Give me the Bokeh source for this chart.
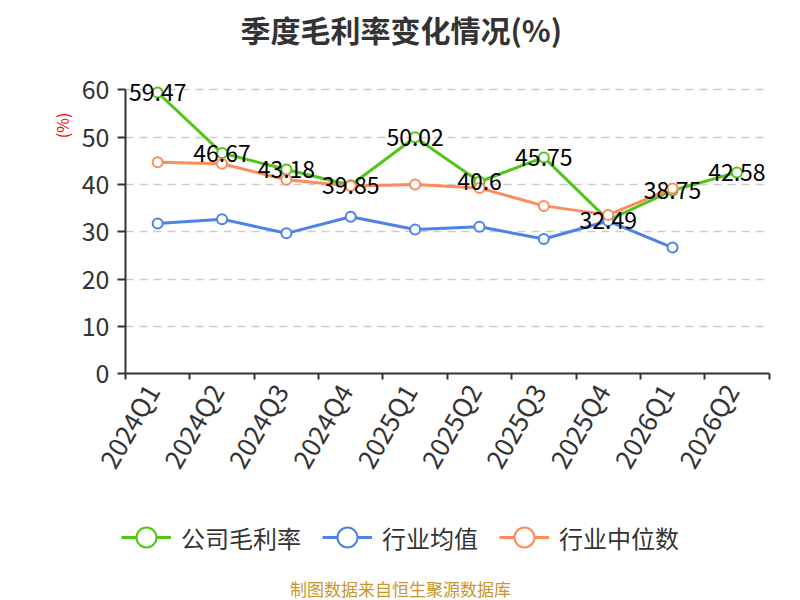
import math
from bokeh.plotting import figure
from bokeh.models import (Range1d, FixedTicker, Legend, LegendItem, Title, Label,
                          ColumnDataSource)
from bokeh.core.properties import value
from bokeh.embed import file_html
from bokeh.resources import INLINE

categories = ["2024Q1", "2024Q2", "2024Q3", "2024Q4", "2025Q1", "2025Q2",
              "2025Q3", "2025Q4", "2026Q1", "2026Q2"]
company = [59.47, 46.67, 43.18, 39.85, 50.02, 40.6, 45.75, 32.49, 38.75, 42.58]
company_labels = ["59.47", "46.67", "43.18", "39.85", "50.02", "40.6", "45.75",
                  "32.49", "38.75", "42.58"]
industry_mean = [31.8, 32.7, 29.7, 33.2, 30.5, 31.1, 28.5, 32.3, 26.7]
industry_median = [44.7, 44.4, 41.0, 39.7, 40.0, 39.3, 35.5, 33.6, 39.2]
y_ticks = [0, 10, 20, 30, 40, 50, 60]

FONT = "Noto Sans CJK SC"
GREEN = "#52c41a"
BLUE = "#4e82e6"
ORANGE = "#fd8b5c"
N = len(categories)

# the frame covers the whole page below the title; axes are pinned at x=0 / y=0
p = figure(frame_width=800, frame_height=520, output_backend="svg",
           toolbar_location=None,
           x_range=Range1d(-1.9422, 10.488), y_range=Range1d(-47.9, 62),
           min_border_left=0, min_border_right=0, min_border_top=80,
           min_border_bottom=0)
p.outline_line_color = None

# title (spacer first, then main title further out)
p.add_layout(Title(text=" ", text_font_size="10px", standoff=17), "above")
p.add_layout(Title(text="季度毛利率变化情况(%)", align="left", offset=240,
                   text_font=FONT, text_font_size="30px",
                   text_font_style="bold", text_color="#333333", standoff=0),
             "above")

xs_all = [i + 0.5 for i in range(N)]
label_pos = [x - 0.1 for x in xs_all]

# grid lines limited to the plotting area
p.xgrid.grid_line_color = None
grid = p.ygrid[0]
if "cross_bounds" in grid.properties():
    grid.ticker = FixedTicker(ticks=y_ticks[1:])
    grid.cross_bounds = (0, N)
    grid.grid_line_color = "#cccccc"
    grid.grid_line_dash = "8 6"
    grid.grid_line_width = 1.5
else:
    grid.grid_line_color = None
    gy = y_ticks[1:]
    p.segment(x0=[0] * len(gy), x1=[N] * len(gy), y0=gy, y1=gy,
              line_color="#cccccc", line_dash="8 6", line_width=1.5)

# x axis drawn at y = 0
xa = p.xaxis[0]
xa.fixed_location = 0
xa.bounds = (0, N)
xa.ticker = FixedTicker(ticks=label_pos, minor_ticks=list(range(N + 1)))
xa.major_label_overrides = {x: c for x, c in zip(label_pos, categories)}
xa.major_tick_line_color = None
xa.minor_tick_in = 0
xa.minor_tick_out = 6
xa.minor_tick_line_color = "#333333"
xa.minor_tick_line_width = 2
xa.axis_line_color = "#333333"
xa.axis_line_width = 2
xa.major_label_orientation = math.radians(60)
xa.major_label_text_font = FONT
xa.major_label_text_font_size = "26px"
xa.major_label_text_color = "#333333"
xa.major_label_standoff = 6

# y axis drawn at x = 0
ya = p.yaxis[0]
ya.fixed_location = 0
ya.bounds = (0, 60)
ya.ticker = FixedTicker(ticks=y_ticks)
ya.minor_tick_line_color = None
ya.major_tick_in = 0
ya.major_tick_out = 8
ya.major_tick_line_color = "#333333"
ya.major_tick_line_width = 2
ya.axis_line_color = "#333333"
ya.axis_line_width = 2
ya.major_label_text_font = FONT
ya.major_label_text_font_size = "25px"
ya.major_label_text_color = "#333333"
ya.major_label_standoff = 8

# series
def series(vals, color):
    xs = xs_all[:len(vals)]
    src = ColumnDataSource(dict(x=xs, y=vals))
    ln = p.line("x", "y", source=src, line_color=color, line_width=3)
    sc = p.scatter("x", "y", source=src, size=10, fill_color="white",
                   line_color=color, line_width=2)
    return ln, sc

g_l, g_s = series(company, GREEN)
b_l, b_s = series(industry_mean, BLUE)
o_l, o_s = series(industry_median, ORANGE)

lab_src = ColumnDataSource(dict(x=xs_all, y=company, t=company_labels))
p.text("x", "y", text="t", source=lab_src, text_align="center",
       text_baseline="middle", text_font=value(FONT), text_font_size="23px",
       text_color="black")

# y axis name
p.add_layout(Label(x=-0.979, y=52.5, text="(%)", angle=math.pi / 2,
                   text_align="center", text_baseline="middle",
                   text_color="red", text_font=FONT, text_font_size="16px"))

legend = Legend(items=[
    LegendItem(label="公司毛利率", renderers=[g_l, g_s]),
    LegendItem(label="行业均值", renderers=[b_l, b_s]),
    LegendItem(label="行业中位数", renderers=[o_l, o_s]),
], orientation="horizontal", location=(121, 38), glyph_width=50,
    glyph_height=50, label_standoff=10, spacing=21, padding=0, margin=0,
    label_text_font=FONT, label_text_font_size="24px",
    label_text_color="#333333", background_fill_alpha=0,
    border_line_color=None)
p.add_layout(legend, "center")

# source note
p.add_layout(Label(x=4.273, y=-45.3, text="制图数据来自恒生聚源数据库",
                   text_align="center", text_baseline="middle",
                   text_color="#c8962d", text_font=FONT, text_font_size="17px"))

open("out.html", "w").write(file_html(p, INLINE))
